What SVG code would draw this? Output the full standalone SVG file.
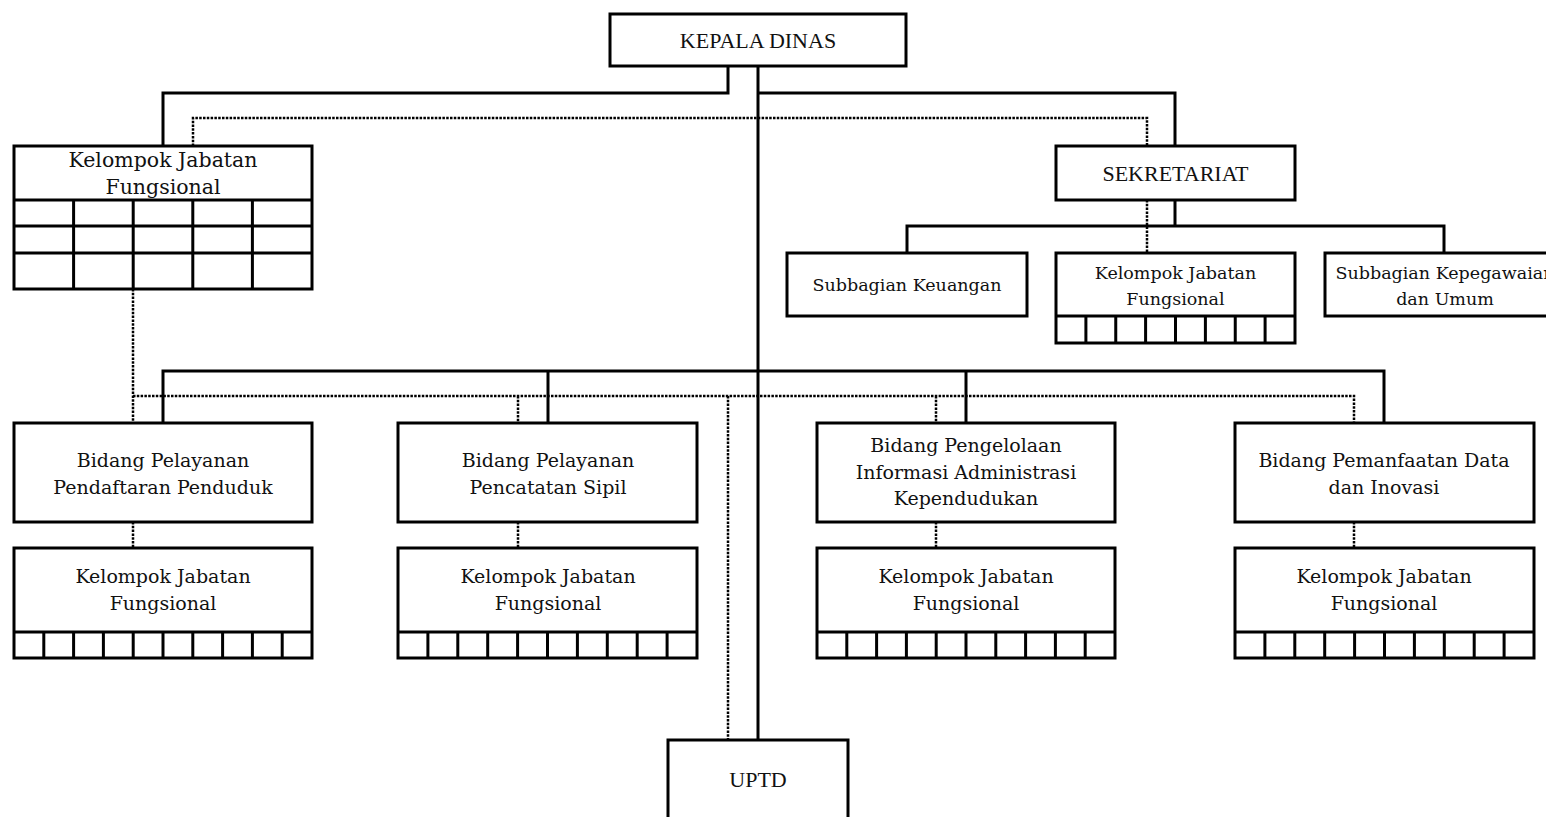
<svg xmlns="http://www.w3.org/2000/svg" width="1546" height="817" viewBox="0 0 1546 817">
<style>
.bg{fill:#ffffff}
.box{fill:#ffffff;stroke:#000;stroke-width:3}
.ln{fill:none;stroke:#000;stroke-width:3}
.solid{fill:none;stroke:#000;stroke-width:3}
.dot{fill:none;stroke:#000;stroke-width:2.5;stroke-dasharray:2.5 1.3}
.cap{font-family:"Liberation Serif","Times New Roman",serif;font-size:22px;fill:#111;text-anchor:middle}
.bk{font-family:"DejaVu Serif","Liberation Serif",serif;font-size:19px;fill:#111;text-anchor:middle}
.bks{font-family:"DejaVu Serif","Liberation Serif",serif;font-size:17.5px;fill:#111;text-anchor:middle}
.bkl{font-family:"DejaVu Serif","Liberation Serif",serif;font-size:20.5px;fill:#111;text-anchor:middle}
</style>
<rect class="bg" x="0" y="0" width="1546" height="817"/>
<g id="connectors">
<path class="solid" d="M728,66 V93 H163 V146"/>
<path class="solid" d="M758,66 V740"/>
<path class="solid" d="M758,93 H1175 V146"/>
<path class="solid" d="M1175,200 V226 M907,253 V226 H1444 V253"/>
<path class="solid" d="M163,423 V371 H1384 V423 M548,371 V423 M966,371 V423"/>
<path class="dot" d="M193,146 V118 H1147 V146"/>
<path class="dot" d="M1147,200 V253"/>
<path class="dot" d="M133,289 V423 M133,396 H1354 V423 M518,396 V423 M936,396 V423"/>
<path class="dot" d="M728,396 V740"/>
<path class="dot" d="M133,522 V548 M518,522 V548 M936,522 V548 M1354,522 V548"/>
</g>
<g id="kepala-dinas">
<rect class="box" x="610" y="14" width="296" height="52"/>
<text class="cap" x="758" y="48">KEPALA DINAS</text>
</g>
<g id="kjf-pimpinan">
<rect class="box" x="14" y="146" width="298" height="143"/>
<path class="ln" d="M14,200 H312 M14,226 H312 M14,253 H312 M73.6,200 V289 M133.2,200 V289 M192.8,200 V289 M252.4,200 V289"/>
<text class="bkl" x="163" y="167">Kelompok Jabatan</text>
<text class="bkl" x="163" y="194">Fungsional</text>
</g>
<g id="sekretariat">
<rect class="box" x="1056" y="146" width="239" height="54"/>
<text class="cap" x="1175.5" y="181">SEKRETARIAT</text>
</g>
<g id="subbagian-keuangan">
<rect class="box" x="787" y="253" width="240" height="63"/>
<text class="bks" x="907" y="291">Subbagian Keuangan</text>
</g>
<g id="kjf-sekretariat">
<rect class="box" x="1056" y="253" width="239" height="90"/>
<path class="ln" d="M1056,316 H1295 M1085.9,316 V343 M1115.75,316 V343 M1145.6,316 V343 M1175.5,316 V343 M1205.4,316 V343 M1235.25,316 V343 M1265.1,316 V343"/>
<text class="bks" x="1175.5" y="279">Kelompok Jabatan</text>
<text class="bks" x="1175.5" y="305">Fungsional</text>
</g>
<g id="subbagian-kepegawaian">
<rect class="box" x="1325" y="253" width="240" height="63"/>
<text class="bks" x="1445" y="279">Subbagian Kepegawaian</text>
<text class="bks" x="1445" y="305">dan Umum</text>
</g>
<g id="bidang-pendaftaran">
<rect class="box" x="14" y="423" width="298" height="99"/>
<text class="bk" x="163" y="467">Bidang Pelayanan</text>
<text class="bk" x="163" y="494">Pendaftaran Penduduk</text>
</g>
<g id="bidang-pencatatan">
<rect class="box" x="398" y="423" width="299" height="99"/>
<text class="bk" x="548" y="467">Bidang Pelayanan</text>
<text class="bk" x="548" y="494">Pencatatan Sipil</text>
</g>
<g id="bidang-pengelolaan">
<rect class="box" x="817" y="423" width="298" height="99"/>
<text class="bk" x="966" y="452">Bidang Pengelolaan</text>
<text class="bk" x="966" y="479">Informasi Administrasi</text>
<text class="bk" x="966" y="505">Kependudukan</text>
</g>
<g id="bidang-pemanfaatan">
<rect class="box" x="1235" y="423" width="299" height="99"/>
<text class="bk" x="1384" y="467">Bidang Pemanfaatan Data</text>
<text class="bk" x="1384" y="494">dan Inovasi</text>
</g>
<g id="kjf-pendaftaran">
<rect class="box" x="14" y="548" width="298" height="110"/>
<path class="ln" d="M14,632 H312 M43.8,632 V658 M73.6,632 V658 M103.4,632 V658 M133.2,632 V658 M163,632 V658 M192.8,632 V658 M222.6,632 V658 M252.4,632 V658 M282.2,632 V658"/>
<text class="bk" x="163" y="583">Kelompok Jabatan</text>
<text class="bk" x="163" y="610">Fungsional</text>
</g>
<g id="kjf-pencatatan">
<rect class="box" x="398" y="548" width="299" height="110"/>
<path class="ln" d="M398,632 H697 M427.9,632 V658 M457.8,632 V658 M487.7,632 V658 M517.6,632 V658 M547.5,632 V658 M577.4,632 V658 M607.3,632 V658 M637.2,632 V658 M667.1,632 V658"/>
<text class="bk" x="548" y="583">Kelompok Jabatan</text>
<text class="bk" x="548" y="610">Fungsional</text>
</g>
<g id="kjf-pengelolaan">
<rect class="box" x="817" y="548" width="298" height="110"/>
<path class="ln" d="M817,632 H1115 M846.8,632 V658 M876.6,632 V658 M906.4,632 V658 M936.2,632 V658 M966,632 V658 M995.8,632 V658 M1025.6,632 V658 M1055.4,632 V658 M1085.2,632 V658"/>
<text class="bk" x="966" y="583">Kelompok Jabatan</text>
<text class="bk" x="966" y="610">Fungsional</text>
</g>
<g id="kjf-pemanfaatan">
<rect class="box" x="1235" y="548" width="299" height="110"/>
<path class="ln" d="M1235,632 H1534 M1264.9,632 V658 M1294.8,632 V658 M1324.7,632 V658 M1354.6,632 V658 M1384.5,632 V658 M1414.4,632 V658 M1444.3,632 V658 M1474.2,632 V658 M1504.1,632 V658"/>
<text class="bk" x="1384" y="583">Kelompok Jabatan</text>
<text class="bk" x="1384" y="610">Fungsional</text>
</g>
<g id="uptd">
<rect class="box" x="668" y="740" width="180" height="90"/>
<text class="cap" x="758" y="787">UPTD</text>
</g>
</svg>
